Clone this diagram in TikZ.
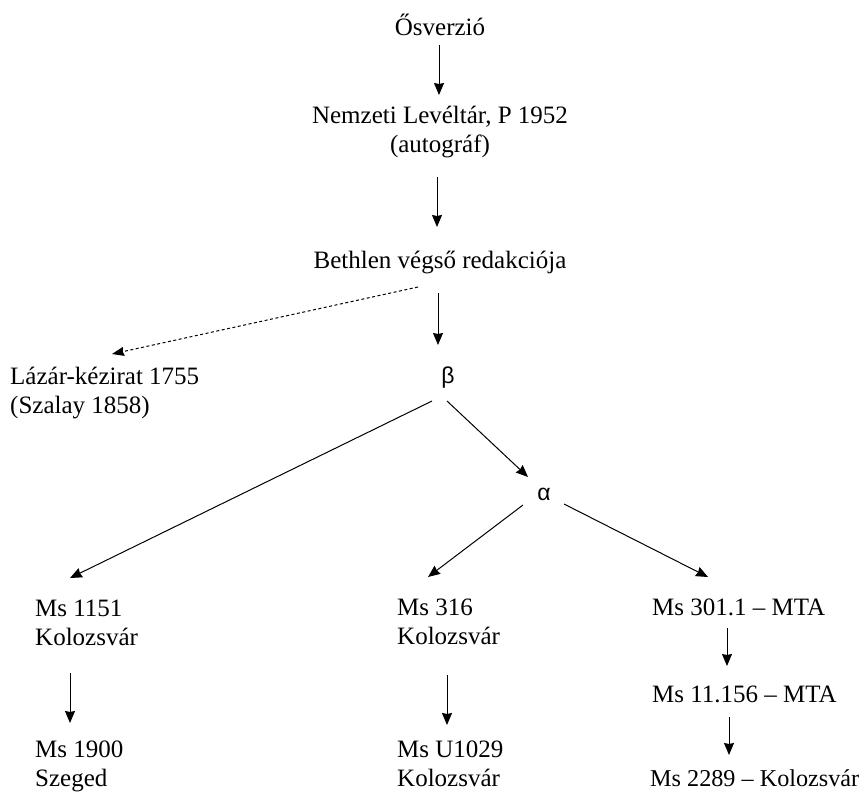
\documentclass[tikz,border=0pt]{standalone}
\usepackage{fontspec}
\setmainfont{Liberation Serif}
\newfontfamily\greekfont{Liberation Sans}
\usetikzlibrary{arrows.meta,calc}
\begin{document}
\begin{tikzpicture}[x=1pt,y=-1pt,
  txt/.style={inner sep=0pt,font={\fontsize{25}{29}\selectfont}},
  grk/.style={inner sep=0pt,font={\greekfont\fontsize{23}{27}\selectfont}},
  arr/.style={line width=1pt,-{Stealth[length=12pt,width=10pt,inset=1pt]}},
  darr/.style={line width=1pt,dash pattern=on 3pt off 2.5pt,-{Stealth[length=12pt,width=9pt,inset=1pt]}}]
\useasboundingbox[fill=white] (0,0) rectangle (867,793);
% multi-line nodes: base anchor = baseline of the last line
\node[txt,anchor=base] (os) at (440,35) {Ősverzió};
\node[txt,anchor=base,align=center] (nl) at (440,152) {Nemzeti Levéltár, P 1952\\(autográf)};
\node[txt,anchor=base] (bv) at (440,268) {Bethlen végső redakciója};
\node[txt,anchor=base west,align=left] (lk) at (10,413) {Lázár-kézirat 1755\\(Szalay 1858)};
\node[grk] (beta) at (448,378) {β};
\node[grk] (alpha) at (544,494) {α};
\node[txt,anchor=base west,align=left] (m1151) at (35,645) {Ms 1151\\Kolozsvár};
\node[txt,anchor=base west,align=left] (m1900) at (35,786) {Ms 1900\\Szeged};
\node[txt,anchor=base west,align=left] (m316) at (397,644) {Ms 316\\Kolozsvár};
\node[txt,anchor=base west,align=left] (mu1029) at (397,786) {Ms U1029\\Kolozsvár};
\node[txt,anchor=base west] (m301) at (652,615) {Ms 301.1 – MTA};
\node[txt,anchor=base west] (m11156) at (652,702) {Ms 11.156 – MTA};
\node[txt,anchor=base west,font={\fontsize{24.2}{29}\selectfont}] (m2289) at (650,786) {Ms 2289 – Kolozsvár};

\draw[arr] ($(os.base)+(-1,10)$) -- ($(nl.base)+(-1,-57)$);
\draw[arr] ($(nl.base)+(-3,25)$) -- ($(bv.base)+(-3,-41)$);
\draw[darr] ($(bv.base)+(-22,19)$) -- ($(lk.base west)+(102,-59)$);
\draw[arr] ($(bv.base)+(-2,25)$) -- ($(beta)+(-10,-33)$);
\draw[arr] ($(beta)+(-16,23)$) -- ($(m1151.base west)+(35,-67)$);
\draw[arr] ($(beta)+(-1,23)$) -- ($(alpha)+(-16,-17)$);
\draw[arr] ($(alpha)+(-21,11)$) -- ($(m316.base west)+(31,-67)$);
\draw[arr] ($(alpha)+(20,10)$) -- ($(m301.base west)+(56,-38)$);
\draw[arr] ($(m1151.base west)+(35,28)$) -- ($(m1900.base west)+(35,-63)$);
\draw[arr] ($(m316.base west)+(50,31)$) -- ($(mu1029.base west)+(50,-61)$);
\draw[arr] ($(m301.base west)+(75,13)$) -- ($(m11156.base west)+(75,-36)$);
\draw[arr] ($(m11156.base west)+(77,15)$) -- ($(m2289.base west)+(79,-31)$);
\end{tikzpicture}
\end{document}
